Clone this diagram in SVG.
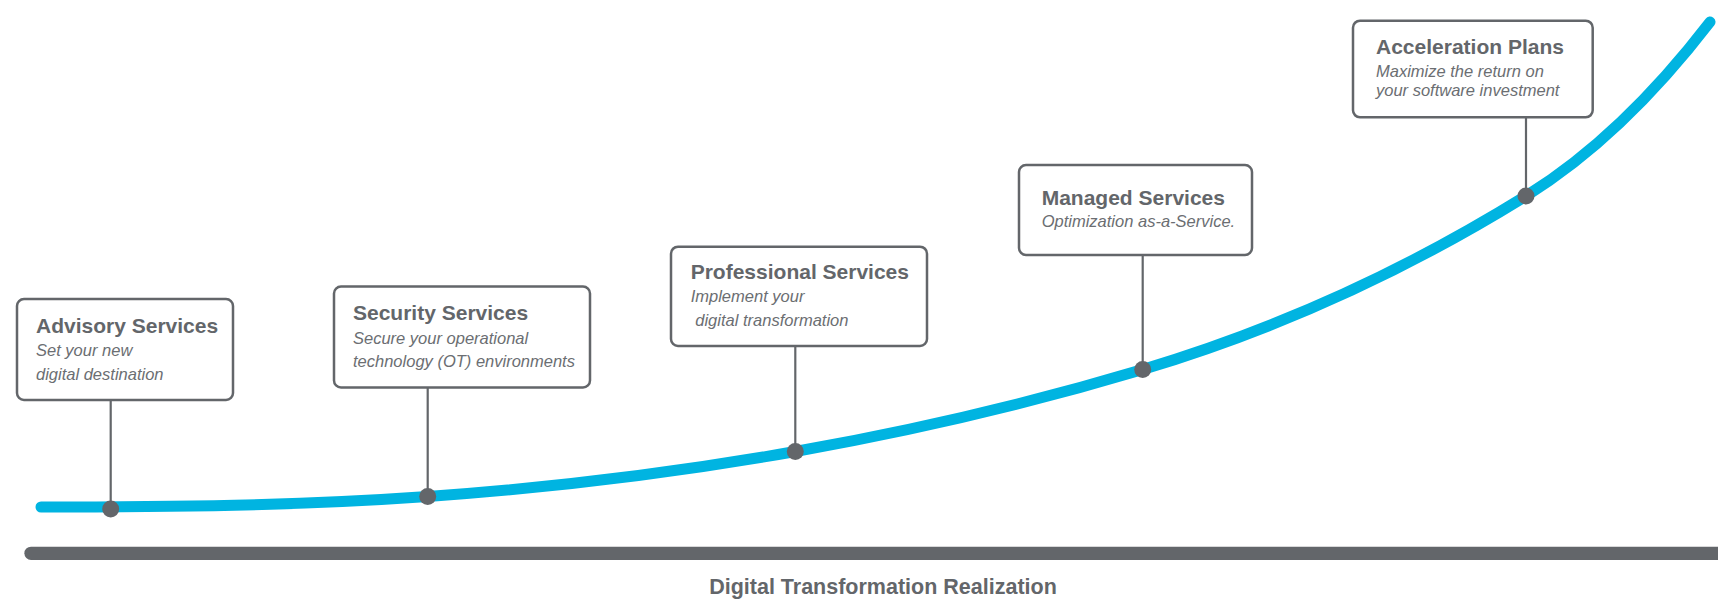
<svg xmlns="http://www.w3.org/2000/svg" width="1718" height="599" viewBox="0 0 1718 599">
<style>
  .box { fill: #ffffff; stroke: #63666a; stroke-width: 2.5; }
  .title { font-family: "Liberation Sans", Arial, sans-serif; font-weight: bold; font-size: 21px; fill: #63666a; }
  .sub { font-family: "Liberation Sans", Arial, sans-serif; font-style: italic; font-size: 16.5px; fill: #6b6e72; }
  .conn { stroke: #63666a; stroke-width: 2.2; fill: none; }
  .dot { fill: #63666a; }
  .axis-label { font-family: "Liberation Sans", Arial, sans-serif; font-weight: bold; font-size: 21.5px; fill: #63666a; }
</style>
<rect width="1718" height="599" fill="#ffffff"/>
<g id="axis">
  <line x1="31" y1="553.3" x2="1730" y2="553.3" stroke="#63666a" stroke-width="13.3" stroke-linecap="round"/>
  <text class="axis-label" x="883" y="594" text-anchor="middle">Digital Transformation Realization</text>
</g>
<g id="curve">
  <path d="M41,507 C169.9,507 298.8,505.65 427.7,496.5 C550.2,487.8 672.8,473.3 795.3,451.5 C911.1,430.9 1026.9,404.2 1142.7,369.5 C1270.5,331.2 1398.2,275.2 1526,196 C1587.3,158 1648.7,101.7 1710,22" fill="none" stroke="#00b4e1" stroke-width="11" stroke-linecap="round"/>
</g>
<g id="connectors">
  <line class="conn" x1="110.7" y1="400" x2="110.7" y2="509"/>
  <line class="conn" x1="427.7" y1="387" x2="427.7" y2="496.5"/>
  <line class="conn" x1="795.3" y1="346" x2="795.3" y2="451.5"/>
  <line class="conn" x1="1142.7" y1="255" x2="1142.7" y2="369.5"/>
  <line class="conn" x1="1526" y1="117" x2="1526" y2="196"/>
  <circle class="dot" cx="110.7" cy="509" r="8.5"/>
  <circle class="dot" cx="427.7" cy="496.5" r="8.5"/>
  <circle class="dot" cx="795.3" cy="451.5" r="8.5"/>
  <circle class="dot" cx="1142.7" cy="369.5" r="8.5"/>
  <circle class="dot" cx="1526" cy="196" r="8.5"/>
</g>
<g id="advisory">
  <rect class="box" x="17" y="299" width="216" height="101" rx="7"/>
  <text class="title" x="36" y="333">Advisory Services</text>
  <text class="sub" x="36" y="356">Set your new</text>
  <text class="sub" x="36" y="380">digital destination</text>
</g>
<g id="security">
  <rect class="box" x="334" y="286.5" width="256" height="101" rx="7"/>
  <text class="title" x="353" y="320">Security Services</text>
  <text class="sub" x="353" y="344">Secure your operational</text>
  <text class="sub" x="353" y="367">technology (OT) environments</text>
</g>
<g id="professional">
  <rect class="box" x="671" y="246.7" width="256" height="99.3" rx="7"/>
  <text class="title" x="690.7" y="279">Professional Services</text>
  <text class="sub" x="690.7" y="302">Implement your</text>
  <text class="sub" x="690.7" y="326" xml:space="preserve"> digital transformation</text>
</g>
<g id="managed">
  <rect class="box" x="1019" y="165" width="233" height="90" rx="7"/>
  <text class="title" x="1041.7" y="205">Managed Services</text>
  <text class="sub" x="1041.7" y="227">Optimization as-a-Service.</text>
</g>
<g id="acceleration">
  <rect class="box" x="1353" y="20.7" width="239.7" height="96.6" rx="7"/>
  <text class="title" x="1376" y="54">Acceleration Plans</text>
  <text class="sub" x="1376" y="77">Maximize the return on</text>
  <text class="sub" x="1376" y="96">your software investment</text>
</g>
</svg>
